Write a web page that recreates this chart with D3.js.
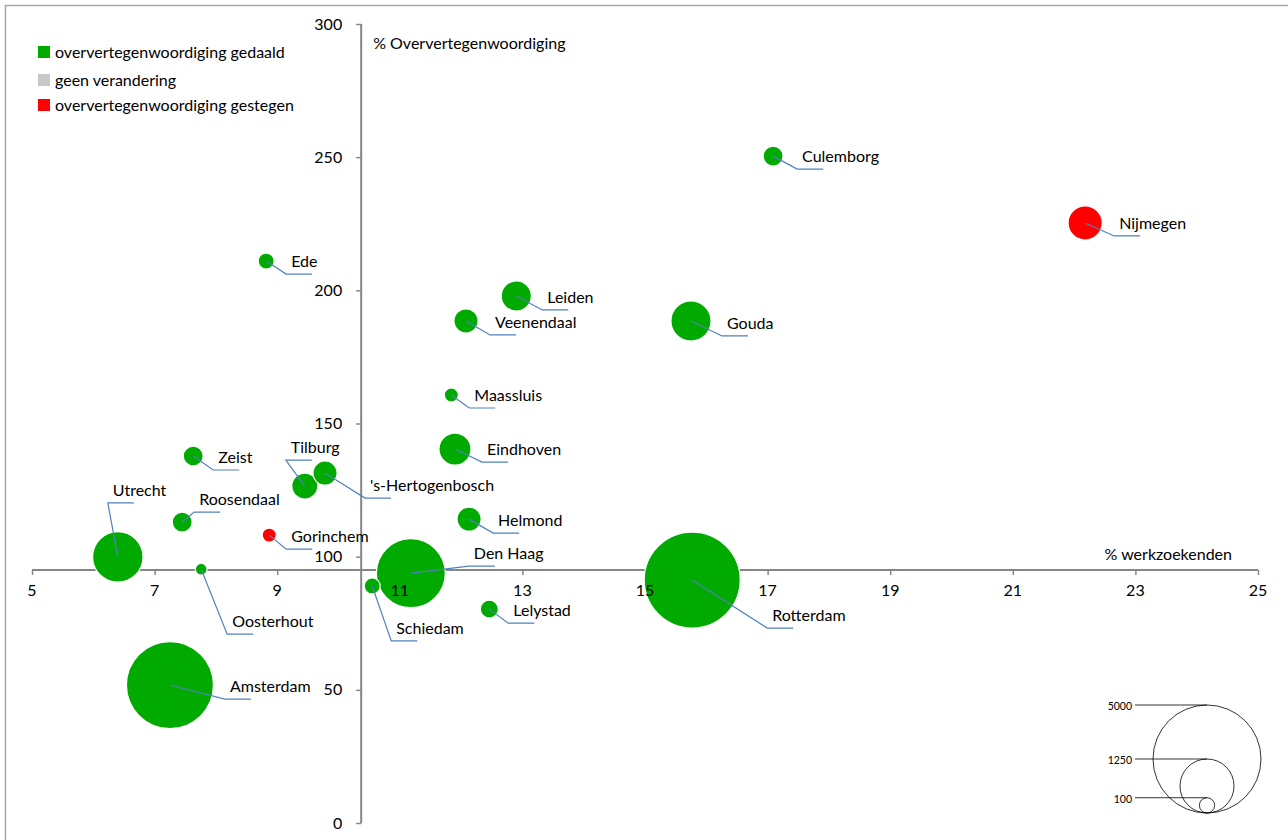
<!DOCTYPE html>
<html>
<head>
<meta charset="utf-8">
<script src="https://cdn.jsdelivr.net/npm/d3@7"></script>
<style>
  body { margin: 0; background: #fff; }
  text { font-family: Lato, "Open Sans", sans-serif; fill: #000; }
</style>
</head>
<body>
<div id="chart"></div>
<script>
// data
var cities = ["Culemborg", "Nijmegen", "Ede", "Leiden", "Veenendaal", "Gouda", "Maassluis",
  "Eindhoven", "Zeist", "Tilburg", "'s-Hertogenbosch", "Roosendaal", "Gorinchem", "Helmond",
  "Utrecht", "Oosterhout", "Den Haag", "Schiedam", "Lelystad", "Rotterdam", "Amsterdam"];
var werkzoekenden = [17.09, 22.18, 8.82, 12.90, 12.08, 15.75, 11.84,
  11.90, 7.63, 9.45, 9.78, 7.45, 8.87, 12.13,
  6.40, 7.76, 11.18, 10.55, 12.46, 15.77, 7.25];
var oververtegenwoordiging = [250.4, 225.3, 211.0, 197.9, 188.5, 188.5, 160.7,
  140.4, 137.8, 126.5, 131.4, 113.0, 108.1, 114.1,
  99.9, 95.3, 93.8, 89.0, 80.3, 91.2, 51.8];
var aantal = [170, 500, 110, 390, 250, 690, 85,
  440, 170, 290, 250, 170, 85, 250,
  1090, 60, 2040, 110, 140, 3950, 3245];
var verandering = ["gedaald", "gestegen", "gedaald", "gedaald", "gedaald", "gedaald", "gedaald",
  "gedaald", "gedaald", "gedaald", "gedaald", "gedaald", "gestegen", "gedaald",
  "gedaald", "gedaald", "gedaald", "gedaald", "gedaald", "gedaald", "gedaald"];

var legendLabels = ["oververtegenwoordiging gedaald", "geen verandering", "oververtegenwoordiging gestegen"];
var legendKeys = ["gedaald", "geen", "gestegen"];
var sizeLegend = [5000, 1250, 100];
var xTicks = [5, 7, 9, 11, 13, 15, 17, 19, 21, 23, 25];
var yTicks = [0, 50, 100, 150, 200, 250, 300];

// label leader elbow offsets (px from bubble centre)
var leader = {
  "Culemborg": [24, 13], "Nijmegen": [29, 13], "Ede": [20, 13], "Leiden": [26, 14],
  "Veenendaal": [24, 14], "Gouda": [31, 15], "Maassluis": [18, 13], "Eindhoven": [27, 13],
  "Zeist": [20, 14], "Tilburg": [-19, -26], "'s-Hertogenbosch": [40, 25], "Roosendaal": [12, -10],
  "Gorinchem": [17, 14], "Helmond": [24, 14], "Utrecht": [-10, -54], "Oosterhout": [26, 65],
  "Den Haag": [58, -7], "Schiedam": [19, 55], "Lelystad": [19, 14], "Rotterdam": [75, 48],
  "Amsterdam": [55, 14]
};

var svgWidth = 1288;
var svgHeight = 840;

var color = d3.scaleOrdinal()
  .domain(legendKeys)
  .range(["#00aa00", "#c8c8c8", "#ff0000"]);

var x = d3.scaleLinear().domain([5, 25]).range([32, 1258]);
var y = d3.scaleLinear().domain([0, 300]).range([823, 24]);
var r = d3.scaleSqrt().domain([0, 5000]).range([0, 54]);

var xCross = 10.37;  // y-axis crosses at this x
var yCross = 95;     // x-axis crosses at this y

var svg = d3.select("#chart").append("svg")
  .attr("width", svgWidth)
  .attr("height", svgHeight);

// frame
svg.append("rect")
  .attr("x", 5.5).attr("y", 5.5)
  .attr("width", 1400).attr("height", 900)
  .attr("fill", "none")
  .attr("stroke", "#a6a6a6")
  .attr("stroke-width", 1.5);

// x axis (labels drawn later, above the bubbles)
var gx = svg.append("g")
  .attr("transform", `translate(0, ${y(yCross)})`)
  .call(d3.axisBottom(x).tickValues(xTicks).tickSize(5).tickFormat(""));
gx.select(".domain").attr("stroke", "#868686").attr("stroke-width", 2).attr("d", `M${x(5)},0H${x(25)}`);
gx.selectAll(".tick line").attr("stroke", "#868686").attr("stroke-width", 1.5);

// y axis
var gy = svg.append("g")
  .attr("transform", `translate(${x(xCross)}, 0)`)
  .call(d3.axisLeft(y).tickValues(yTicks).tickSize(5).tickFormat(""));
gy.select(".domain").attr("stroke", "#868686").attr("stroke-width", 2).attr("d", `M0,${y(300)}V${y(0)}`);
gy.selectAll(".tick line").attr("stroke", "#868686").attr("stroke-width", 1.5);

// bubbles
var data = cities.map(function(c, i) {
  return { name: c, x: werkzoekenden[i], y: oververtegenwoordiging[i], n: aantal[i], k: verandering[i] };
});
var order = data.slice().sort(function(a, b) { return b.n - a.n; });

svg.append("g").selectAll("circle")
  .data(order)
  .enter()
  .append("circle")
  .attr("cx", d => x(d.x))
  .attr("cy", d => y(d.y))
  .attr("r", d => r(d.n))
  .attr("fill", d => color(d.k))
  .attr("stroke", "#fff")
  .attr("stroke-width", 1.2);

// tick labels on top
svg.append("g").selectAll("text")
  .data(xTicks)
  .enter()
  .append("text")
  .attr("x", d => x(d))
  .attr("y", y(yCross) + 20)
  .attr("dy", "0.35em")
  .attr("text-anchor", "middle")
  .attr("font-size", 16)
  .text(d => d);

svg.append("g").selectAll("text")
  .data(yTicks)
  .enter()
  .append("text")
  .attr("x", x(xCross) - 19)
  .attr("y", d => y(d))
  .attr("dy", "0.35em")
  .attr("text-anchor", "end")
  .attr("font-size", 16)
  .text(d => d);

// axis titles
svg.append("text")
  .attr("x", x(xCross) + 12).attr("y", 43)
  .attr("dy", "0.35em")
  .attr("font-size", 16)
  .text("% Oververtegenwoordiging");
svg.append("text")
  .attr("x", 1232).attr("y", y(yCross) - 16)
  .attr("dy", "0.35em")
  .attr("text-anchor", "end")
  .attr("font-size", 16)
  .text("% werkzoekenden");

// leader lines + labels
var labels = svg.append("g");
data.forEach(function(d) {
  var cx = x(d.x), cy = y(d.y);
  var off = leader[d.name];
  var ex = cx + off[0], ey = cy + off[1];
  labels.append("path")
    .attr("d", `M${cx},${cy}L${ex},${ey}H${ex + 26}`)
    .attr("fill", "none")
    .attr("stroke", "#4f81bd")
    .attr("stroke-width", 1.2);
  labels.append("text")
    .attr("x", ex + 5)
    .attr("y", ey - 13)
    .attr("dy", "0.35em")
    .attr("font-size", 16)
    .text(d.name);
});

// colour legend
var leg = svg.append("g");
legendLabels.forEach(function(l, i) {
  var ly = [52, 80, 105][i];
  leg.append("rect")
    .attr("x", 38).attr("y", ly - 6)
    .attr("width", 12).attr("height", 12)
    .attr("fill", color(legendKeys[i]));
  leg.append("text")
    .attr("x", 55).attr("y", ly)
    .attr("dy", "0.35em")
    .attr("font-size", 16)
    .text(l);
});

// size legend
var sl = svg.append("g");
var sx = 1207, sBottom = 813;
sizeLegend.forEach(function(v) {
  var rr = r(v);
  sl.append("circle")
    .attr("cx", sx).attr("cy", sBottom - rr)
    .attr("r", rr)
    .attr("fill", "none")
    .attr("stroke", "#000")
    .attr("stroke-width", 0.8);
  sl.append("line")
    .attr("x1", 1135).attr("x2", sx)
    .attr("y1", sBottom - 2 * rr).attr("y2", sBottom - 2 * rr)
    .attr("stroke", "#000")
    .attr("stroke-width", 0.8);
  sl.append("text")
    .attr("x", 1132).attr("y", sBottom - 2 * rr + 5)
    .attr("text-anchor", "end")
    .attr("font-size", 10.5)
    .text(v);
});
</script>
</body>
</html>
